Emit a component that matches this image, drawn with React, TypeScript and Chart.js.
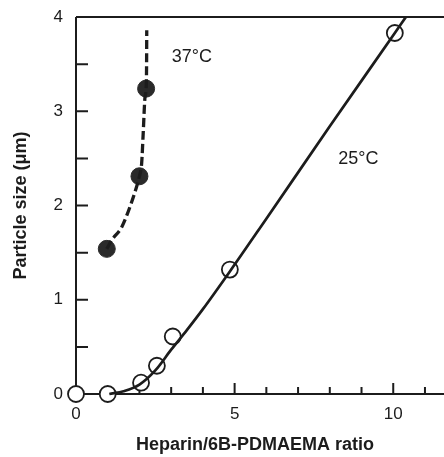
import React, { useEffect, useRef } from "react";
import { Chart, registerables } from "chart.js";

Chart.register(...registerables);

// Measured points
const ratio25 = [0, 1.0, 2.05, 2.55, 3.05, 4.85, 10.05];
const size25 = [0, 0, 0.12, 0.3, 0.61, 1.32, 3.83];
const ratio37 = [0.97, 2.0, 2.21];
const size37 = [1.54, 2.31, 3.24];

// Hand-drawn fit curves
const fit25X = [1.05, 1.5, 2.0, 2.5, 3.0, 3.5, 4.0, 4.85, 6.0, 8.0, 10.05, 10.4];
const fit25Y = [0.0, 0.03, 0.1, 0.25, 0.47, 0.68, 0.9, 1.3, 1.86, 2.84, 3.83, 4.0];
const fit37X = [0.97, 1.12, 1.44, 1.7, 1.91, 2.0, 2.07, 2.12, 2.175, 2.21, 2.225, 2.23];
const fit37Y = [1.54, 1.63, 1.77, 1.985, 2.2, 2.31, 2.45, 2.78, 3.15, 3.24, 3.5, 3.86];

// Axis ticks
const xMajorTicks = [0, 5, 10];
const xMinorTicks = [1, 2, 3, 4, 6, 7, 8, 9, 11];
const yMajorTicks = [0, 1, 2, 3, 4];
const yMinorTicks = [0.5, 1.5, 2.5, 3.5];

const xAxisTitle = "Heparin/6B-PDMAEMA ratio";
const yAxisTitle = "Particle size (μm)";
const seriesLabels = ["37°C", "25°C"];

const FONT = '"Liberation Sans", Arial, Helvetica, sans-serif';
const INK = "#1c1c1c";

const toPts = (xs: number[], ys: number[]) => xs.map((x, i) => ({ x, y: ys[i] }));

const decorPlugin = {
  id: "decor",
  beforeDatasetsDraw(chart: any) {
    const { ctx, chartArea, scales } = chart;
    const xs = scales.x;
    const ys = scales.y;
    ctx.save();
    ctx.strokeStyle = INK;
    ctx.lineWidth = 2;
    ctx.lineCap = "butt";
    ctx.beginPath();
    ctx.moveTo(chartArea.left, chartArea.top);
    ctx.lineTo(chartArea.right, chartArea.top);
    ctx.moveTo(chartArea.left, chartArea.top);
    ctx.lineTo(chartArea.left, chartArea.bottom);
    ctx.lineTo(chartArea.right, chartArea.bottom);
    ctx.stroke();
    ctx.beginPath();
    xMajorTicks.forEach((v) => {
      const px = xs.getPixelForValue(v);
      ctx.moveTo(px, chartArea.bottom);
      ctx.lineTo(px, chartArea.bottom - 11);
    });
    xMinorTicks.forEach((v) => {
      const px = xs.getPixelForValue(v);
      ctx.moveTo(px, chartArea.bottom);
      ctx.lineTo(px, chartArea.bottom - 7);
    });
    [...yMajorTicks, ...yMinorTicks].forEach((v) => {
      const py = ys.getPixelForValue(v);
      ctx.moveTo(chartArea.left, py);
      ctx.lineTo(chartArea.left + 12, py);
    });
    ctx.stroke();
    ctx.restore();
  },
  afterDraw(chart: any) {
    const { ctx, scales } = chart;
    const xs = scales.x;
    const ys = scales.y;
    ctx.save();
    ctx.fillStyle = INK;
    ctx.textAlign = "center";
    ctx.textBaseline = "middle";
    ctx.font = `18px ${FONT}`;
    ctx.fillText(seriesLabels[0], xs.getPixelForValue(3.65), ys.getPixelForValue(3.57));
    ctx.fillText(seriesLabels[1], xs.getPixelForValue(8.9), ys.getPixelForValue(2.49));
    ctx.font = `bold 18px ${FONT}`;
    ctx.fillText(xAxisTitle, 255, 445);
    ctx.translate(21, (chart.chartArea.top + chart.chartArea.bottom) / 2);
    ctx.rotate(-Math.PI / 2);
    ctx.fillText(yAxisTitle, 0, 0);
    ctx.restore();
  },
};

export default function App() {
  const ref = useRef<HTMLCanvasElement | null>(null);
  useEffect(() => {
    document.body.style.margin = "0";
    const canvas = ref.current!;
    const chart = new Chart(canvas, {
      type: "scatter",
      data: {
        datasets: [
          {
            label: "37°C fit",
            data: toPts(fit37X, fit37Y),
            showLine: true,
            borderColor: INK,
            borderWidth: 3.3,
            borderDash: [9, 4],
            pointRadius: 0,
            cubicInterpolationMode: "monotone",
            clip: false,
          } as any,
          {
            label: "25°C fit",
            data: toPts(fit25X, fit25Y),
            showLine: true,
            borderColor: INK,
            borderWidth: 2.7,
            pointRadius: 0,
            cubicInterpolationMode: "monotone",
            clip: false,
          } as any,
          {
            label: "37°C",
            data: toPts(ratio37, size37),
            pointRadius: 8.5,
            pointBackgroundColor: "#2a2a2a",
            pointBorderColor: "#2a2a2a",
            pointBorderWidth: 1,
            clip: false,
          } as any,
          {
            label: "25°C",
            data: toPts(ratio25, size25),
            pointRadius: 8,
            pointBackgroundColor: "#ffffff",
            pointBorderColor: INK,
            pointBorderWidth: 1.8,
            clip: false,
          } as any,
        ],
      },
      options: {
        animation: false,
        responsive: false,
        maintainAspectRatio: false,
        layout: { autoPadding: false, padding: { top: 17, right: 0, left: 0, bottom: 0 } },
        plugins: { legend: { display: false }, tooltip: { enabled: false } },
        scales: {
          x: {
            type: "linear",
            min: 0,
            max: 11.6,
            grid: { display: false, drawTicks: false },
            border: { display: false },
            ticks: { color: INK, font: { size: 17, family: FONT }, padding: 10 },
            afterBuildTicks: (s: any) => {
              s.ticks = xMajorTicks.map((v) => ({ value: v }));
            },
            afterFit: (s: any) => {
              s.height = 63;
              s.paddingLeft = 0;
              s.paddingRight = 0;
            },
          },
          y: {
            type: "linear",
            min: 0,
            max: 4,
            grid: { display: false, drawTicks: false },
            border: { display: false },
            ticks: { color: INK, font: { size: 17, family: FONT }, padding: 13 },
            afterBuildTicks: (s: any) => {
              s.ticks = yMajorTicks.map((v) => ({ value: v }));
            },
            afterFit: (s: any) => {
              s.width = 76;
              s.paddingTop = 0;
              s.paddingBottom = 0;
            },
          },
        },
      },
      plugins: [decorPlugin],
    });
    return () => chart.destroy();
  }, []);
  return (
    <div style={{ width: 444, height: 457 }}>
      <canvas ref={ref} width={444} height={457} style={{ display: "block" }} />
    </div>
  );
}
